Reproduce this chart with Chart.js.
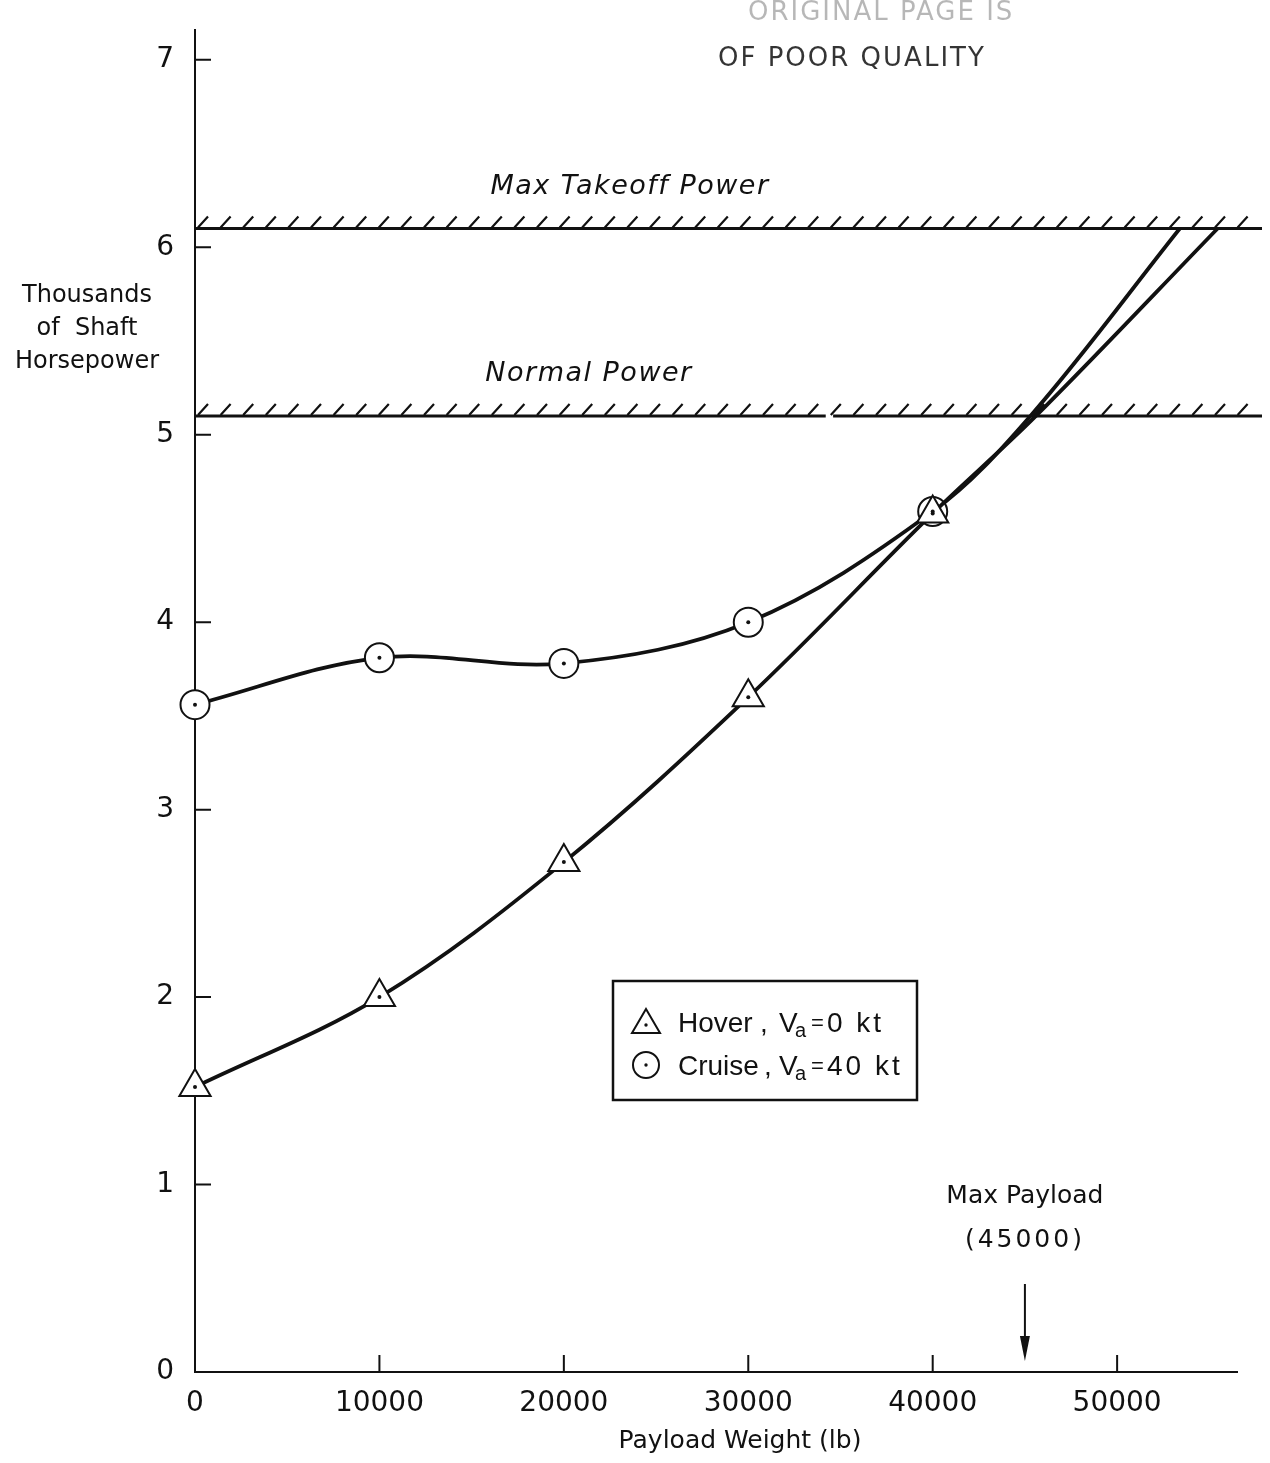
<!DOCTYPE html>
<html>
<head>
<meta charset="utf-8">
<title>Payload vs Shaft Horsepower</title>
<script src="https://cdn.jsdelivr.net/npm/chart.js@4.4.0/dist/chart.umd.min.js"></script>
<style>
  html, body { margin: 0; padding: 0; background: #fff; }
  canvas { display: block; }
</style>
</head>
<body>
<canvas id="grafico" width="1270" height="1463"></canvas>
<script>
// test points (payload lb, thousands of shp)
const payload = [0, 10000, 20000, 30000, 40000];
const hoverShp = [1.52, 2.0, 2.72, 3.6, 4.58];
const cruiseShp = [3.56, 3.81, 3.78, 4.0, 4.59];

// curves carried on past the last test point up to the takeoff limit
const hoverTailX = [45600, 55450];
const hoverTailY = [5.1, 6.1];
const cruiseTailX = [45300, 53400];
const cruiseTailY = [5.1, 6.1];

const xTicks = [0, 10000, 20000, 30000, 40000, 50000];
const yTicks = [0, 1, 2, 3, 4, 5, 6, 7];

const powerLimits = [6.1, 5.1];
const powerLabels = ["Max Takeoff Power", "Normal Power"];
const maxPayload = 45000;

const FONT = "'DejaVu Sans', sans-serif";
const LEG_FONT = "'Liberation Sans', sans-serif";
const INK = "#111";

function montarPontos(xs, ys, tailX, tailY) {
  const pts = xs.map((x, i) => ({ x: x, y: ys[i] }));
  tailX.forEach((x, i) => pts.push({ x: x, y: tailY[i] }));
  return pts;
}
function raios(n, tail, r) {
  return Array(n).fill(r).concat(Array(tail).fill(0));
}

// limit lines with hatching, labels, legend, arrow, inside ticks
const decoracao = {
  id: "decoracao",
  beforeDatasetsDraw(chart) {
    const ctx = chart.ctx;
    const sx = chart.scales.x, sy = chart.scales.y;
    const left = chart.chartArea.left;
    const right = chart.width - 8;
    ctx.save();
    ctx.strokeStyle = INK;
    powerLimits.forEach((v, k) => {
      const y = sy.getPixelForValue(v);
      ctx.lineWidth = 3;
      ctx.beginPath();
      if (k === 1) {
        // small break in the normal power line
        const g1 = sx.getPixelForValue(34200), g2 = sx.getPixelForValue(34600);
        ctx.moveTo(left, y); ctx.lineTo(g1, y);
        ctx.moveTo(g2, y); ctx.lineTo(right, y);
      } else {
        ctx.moveTo(left, y); ctx.lineTo(right, y);
      }
      ctx.stroke();
      ctx.lineWidth = 2.2;
      ctx.beginPath();
      for (let x = left + 3; x < right - 6; x += 22.6) {
        ctx.moveTo(x, y - 1);
        ctx.lineTo(x + 10, y - 12);
      }
      ctx.stroke();

      ctx.fillStyle = INK;
      ctx.font = "oblique 27px " + FONT;
      ctx.letterSpacing = "1.5px";
      ctx.textAlign = "center";
      ctx.textBaseline = "middle";
      const cx = k === 0 ? 630 : 589;
      ctx.fillText(powerLabels[k], cx, y - 42);
      ctx.letterSpacing = "0px";
    });
    ctx.restore();
  },
  afterDatasetsDraw(chart) {
    const ctx = chart.ctx;
    ctx.save();
    ctx.fillStyle = INK;
    chart.data.datasets.forEach((ds, i) => {
      chart.getDatasetMeta(i).data.forEach(el => {
        if (el.options.radius > 0) {
          ctx.beginPath();
          ctx.arc(el.x, el.y, 2, 0, Math.PI * 2);
          ctx.fill();
        }
      });
    });
    ctx.restore();
  },
  afterDraw(chart) {
    const ctx = chart.ctx;
    const sx = chart.scales.x, sy = chart.scales.y;
    const area = chart.chartArea;
    ctx.save();
    ctx.strokeStyle = INK;
    ctx.fillStyle = INK;

    // tick marks point into the plot
    ctx.lineWidth = 2;
    ctx.beginPath();
    yTicks.forEach(v => {
      if (v === 0) return;
      const y = sy.getPixelForValue(v);
      ctx.moveTo(area.left, y); ctx.lineTo(area.left + 16, y);
    });
    xTicks.forEach(v => {
      if (v === 0) return;
      const x = sx.getPixelForValue(v);
      ctx.moveTo(x, area.bottom); ctx.lineTo(x, area.bottom - 17);
    });
    ctx.stroke();

    // axis titles
    ctx.textAlign = "center";
    ctx.textBaseline = "middle";
    ctx.font = "24px " + FONT;
    ctx.fillText("Thousands", 87, 296);
    ctx.fillText("of  Shaft", 87, 329);
    ctx.fillText("Horsepower", 87, 362);
    ctx.font = "25px " + FONT;
    ctx.fillText("Payload Weight (lb)", 740, 1441);

    // max payload marker
    const ax = sx.getPixelForValue(maxPayload);
    ctx.fillText("Max Payload", ax, 1196);
    ctx.letterSpacing = "3px";
    ctx.fillText("(45000)", ax, 1240);
    ctx.letterSpacing = "0px";
    ctx.lineWidth = 2;
    ctx.beginPath();
    ctx.moveTo(ax, 1284); ctx.lineTo(ax, 1345);
    ctx.stroke();
    ctx.beginPath();
    ctx.moveTo(ax, 1361); ctx.lineTo(ax - 5, 1336); ctx.lineTo(ax + 5, 1336);
    ctx.closePath();
    ctx.fill();

    // legend box
    ctx.lineWidth = 2.5;
    ctx.strokeRect(613, 981, 304, 119);
    ctx.lineWidth = 2;
    ctx.beginPath();
    ctx.moveTo(646, 1009); ctx.lineTo(660, 1033); ctx.lineTo(632, 1033);
    ctx.closePath();
    ctx.stroke();
    ctx.beginPath();
    ctx.arc(646, 1025, 1.7, 0, Math.PI * 2);
    ctx.fill();
    ctx.beginPath();
    ctx.arc(646, 1065, 13, 0, Math.PI * 2);
    ctx.stroke();
    ctx.beginPath();
    ctx.arc(646, 1065, 1.7, 0, Math.PI * 2);
    ctx.fill();

    ctx.textAlign = "left";
    ctx.textBaseline = "alphabetic";
    const linhas = [
      ["Hover", 760, "0 kt", 1032],
      ["Cruise", 764, "40 kt", 1075]
    ];
    linhas.forEach(l => {
      const base = l[3];
      ctx.font = "28px " + LEG_FONT;
      ctx.fillText(l[0], 678, base);
      ctx.fillText(",", l[1], base);
      ctx.fillText("V", 779, base);
      ctx.letterSpacing = "3px";
      ctx.fillText(l[2], 827, base);
      ctx.letterSpacing = "0px";
      ctx.font = "20px " + LEG_FONT;
      ctx.fillText("a", 795, base + 5);
      ctx.font = "22px " + LEG_FONT;
      ctx.fillText("=", 811, base - 2);
    });

    // faded stamp
    ctx.font = "26px " + FONT;
    ctx.globalAlpha = 0.3;
    ctx.letterSpacing = "2px";
    ctx.fillText("ORIGINAL PAGE IS", 748, 20);
    ctx.globalAlpha = 0.85;
    ctx.fillText("OF POOR QUALITY", 718, 66);
    ctx.restore();
  }
};

new Chart(document.getElementById("grafico"), {
  type: "line",
  data: {
    datasets: [
      {
        label: "Hover, Va = 0 kt",
        data: montarPontos(payload, hoverShp, hoverTailX, hoverTailY),
        borderColor: INK,
        borderWidth: 3.8,
        tension: 0.35,
        pointStyle: "triangle",
        pointRadius: raios(payload.length, hoverTailX.length, 18),
        pointBackgroundColor: "#fff",
        pointBorderColor: INK,
        pointBorderWidth: 2,
        clip: false
      },
      {
        label: "Cruise, Va = 40 kt",
        data: montarPontos(payload, cruiseShp, cruiseTailX, cruiseTailY),
        borderColor: INK,
        borderWidth: 3.8,
        tension: 0.35,
        pointStyle: "circle",
        pointRadius: raios(payload.length, cruiseTailX.length, 14.5),
        pointBackgroundColor: "#fff",
        pointBorderColor: INK,
        pointBorderWidth: 2,
        clip: false
      }
    ]
  },
  options: {
    responsive: false,
    animation: false,
    devicePixelRatio: 1,
    layout: { autoPadding: false, padding: { top: 28, right: 33, left: 0, bottom: 0 } },
    plugins: { legend: { display: false }, tooltip: { enabled: false } },
    scales: {
      x: {
        type: "linear",
        min: 0,
        max: 56500,
        afterBuildTicks: s => { s.ticks = xTicks.map(v => ({ value: v })); },
        afterFit: s => { s.height = 91; },
        grid: { display: false },
        border: { display: true, color: INK, width: 2 },
        ticks: {
          color: INK,
          padding: 7,
          maxRotation: 0,
          font: { family: "DejaVu Sans", size: 28 },
          callback: v => String(v)
        }
      },
      y: {
        type: "linear",
        min: 0,
        max: 7.16,
        afterBuildTicks: s => { s.ticks = yTicks.map(v => ({ value: v })); },
        afterFit: s => { s.width = 195; },
        grid: { display: false },
        border: { display: true, color: INK, width: 2 },
        ticks: {
          color: INK,
          padding: 13,
          font: { family: "DejaVu Sans", size: 28 },
          callback: v => String(v)
        }
      }
    }
  },
  plugins: [decoracao]
});
</script>
</body>
</html>
